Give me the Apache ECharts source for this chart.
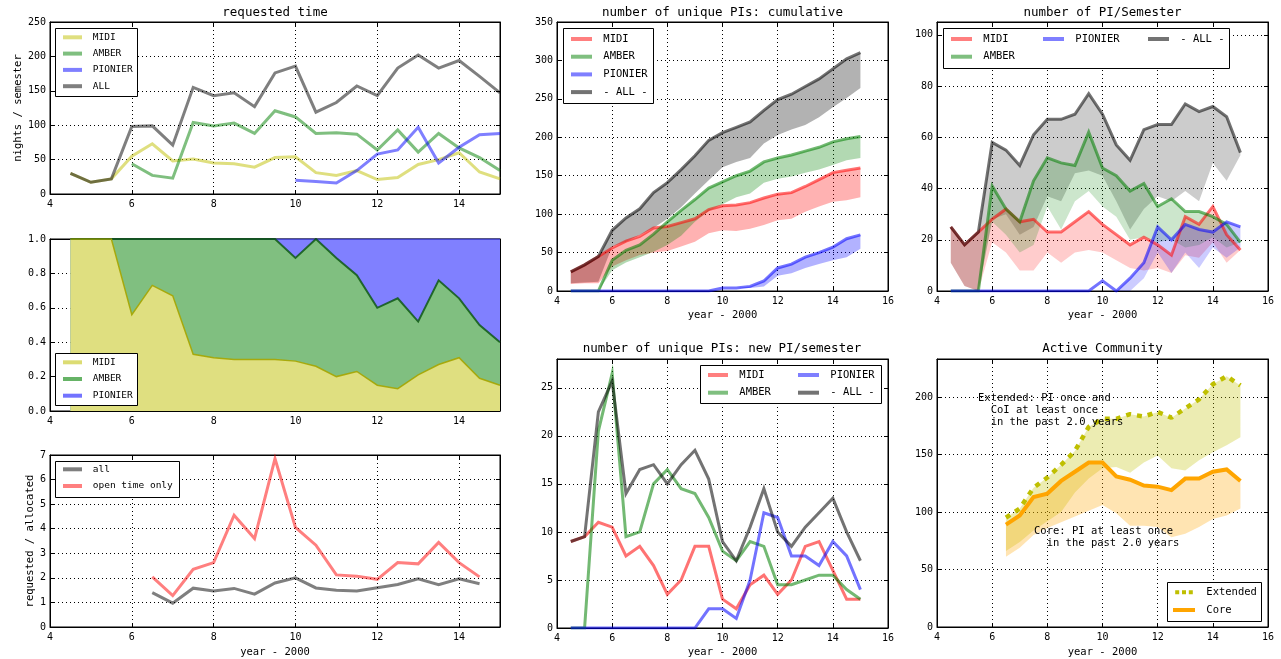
<!DOCTYPE html>
<html><head><meta charset="utf-8">
<script src="https://cdn.jsdelivr.net/npm/echarts@6/dist/echarts.min.js"></script>
<style>html,body{margin:0;padding:0;background:#fff}#c{width:1281px;height:659px}</style>
</head><body><div id="c"></div>
<script>
// ---------------- DATA ----------------
const semesters = [4.5,5,5.5,6,6.5,7,7.5,8,8.5,9,9.5,10,10.5,11,11.5,12,12.5,13,13.5,14,14.5,15];
const N = null;
// requested time (nights / semester)
const reqMidi    = [30,17,22,55,73,48,51,45,44,39,53,54,31,27,34,21,24,43,50,60,32,22];
const reqAmber   = [N,N,N,44,27,23,104,99,103,88,121,112,88,89,87,64,93,61,88,67,53,34];
const reqPionier = [N,N,N,N,N,N,N,N,N,N,N,20,18,16,34,58,64,97,45,68,86,88];
const reqAll     = [30,17,22,98,99,71,155,143,147,127,176,186,119,133,157,143,183,202,183,194,171,147];
// fraction of requested time
const fracMidi    = [1,1,1,0.56,0.73,0.67,0.33,0.31,0.30,0.30,0.30,0.29,0.26,0.20,0.23,0.15,0.13,0.21,0.27,0.31,0.19,0.15];
const fracAmber   = [0,0,0,0.44,0.27,0.33,0.67,0.69,0.70,0.70,0.70,0.60,0.74,0.69,0.56,0.45,0.525,0.31,0.49,0.345,0.31,0.25];
const fracPionier = [0,0,0,0,0,0,0,0,0,0,0,0.11,0,0.11,0.21,0.40,0.345,0.48,0.24,0.345,0.50,0.60];
// requested / allocated
const ratioAll  = [N,N,N,N,1.4,0.97,1.58,1.47,1.57,1.34,1.79,2.0,1.59,1.5,1.47,1.6,1.73,1.96,1.72,1.96,1.76,N];
const ratioOpen = [N,N,N,N,2.04,1.28,2.35,2.62,4.55,3.6,6.85,4.05,3.33,2.12,2.07,1.94,2.62,2.57,3.44,2.62,2.04,N];
// unique PIs cumulative
const cumAll       = [25,34,45,79,95,107,128,141,158,176,196,206,213,220,235,249,256,266,276,289,302,310];
const cumAllLo     = [10,11,12,58,64,73,82,94,109,127,144,161,168,173,192,203,210,216,226,239,251,264];
const cumMidi      = [25,34,45,56,65,71,82,84,89,94,106,111,112,115,121,126,128,136,145,154,157,160];
const cumMidiLo    = [9,10,10,32,40,47,50,52,58,64,75,79,78,81,86,92,94,103,110,116,118,122];
const cumAmber     = [0,0,0,40,53,60,74,90,105,119,134,142,150,156,168,173,177,182,187,194,198,201];
const cumAmberLo   = [0,0,0,27,37,44,51,60,72,90,104,113,122,127,141,146,149,154,158,164,170,173];
const cumPionier   = [0,0,0,0,0,0,0,0,0,0,0,4,4,6,13,30,35,44,50,57,68,73];
const cumPionierLo = [0,0,0,0,0,0,0,0,0,0,0,4,4,4,6,20,23,30,35,40,44,55];
// new PIs per semester
const newAll     = [9,9.5,22.5,25.7,14,16.5,17,15,17,18.5,15.5,9,7,10.5,14.5,10,8.5,10.5,12,13.5,10,7];
const newMidi    = [9,9.5,11,10.5,7.5,8.5,6.5,3.5,5,8.5,8.5,3,2,4.5,5.5,3.5,5,8.5,9,6,3,3];
const newAmber   = [0,0,20.5,26.5,9.5,10,15,16.5,14.5,14,11.5,8,7,9,8.5,4.5,4.5,5,5.5,5.5,4,3];
const newPionier = [0,0,0,0,0,0,0,0,0,0,2,2,1,5,12,11.5,7.5,7.5,6.5,9,7.5,4];
// number of PI per semester
const semAll       = [25,18,23,58,55,49,61,67,67,69,77,69,57,51,63,65,65,73,70,72,68,54];
const semAllLo     = [11,2,0,28,30,22,25,37,35,46,47,45,35,24,32,37,35,39,35,50,43,53];
const semMidi      = [25,18,23,28,32,27,28,23,23,27,31,26,22,18,21,18,14,29,26,33,22,16];
const semMidiLo    = [11,2,0,19,15,8,8,15,11,15,16,15,12,9,8,9,7,14,13,19,11,16];
const semAmber     = [0,0,0,41,32,27,43,52,50,49,62,48,45,39,42,33,36,31,31,29,26,19];
const semAmberLo   = [0,0,0,27,22,15,18,33,24,35,39,33,29,20,21,19,20,17,18,21,17,19];
const semPionier   = [0,0,0,0,0,0,0,0,0,0,0,4,0,5,11,25,20,26,24,23,27,25];
const semPionierLo = [0,0,0,0,0,0,0,0,0,0,0,4,0,0,5,15,7,15,9,17,13,17];
// active community
const extended   = [N,N,N,N,95,103,121,130,141,153,174,181,181,185,183,187,182,190,198,211,218,210];
const extendedLo = [N,N,N,N,66,74,84,92,100,117,129,138,139,134,143,149,138,136,145,152,158,165];
const core       = [N,N,N,N,89,97,113,116,127,135,143,143,131,128,123,122,119,129,129,135,137,127];
const coreLo     = [N,N,N,N,61,69,80,86,91,96,101,106,99,88,88,87,78,81,87,94,97,103];

// ---------------- HELPERS ----------------
const FONT = '"DejaVu Sans Mono", monospace';
const grids = [
  {left:50, top:22, width:450, height:172},
  {left:50, top:239, width:450, height:172},
  {left:50, top:455, width:450, height:172},
  {left:557, top:22, width:331, height:269},
  {left:557, top:359, width:331, height:269},
  {left:937, top:22, width:331, height:269},
  {left:937, top:359, width:331, height:268}
];
const xRange = [[4,15],[4,15],[4,15],[4,16],[4,16],[4,16],[4,16]];
const yRange = [[0,250,50],[0,1,0.2],[0,7,1],[0,350,50],[0,28,5],[0,105,20],[0,233,50]];

const xAxes = [], yAxes = [];
const tick = {show:true, inside:true, length:4, lineStyle:{color:'#000', width:1}};
const aline = {show:true, onZero:false, lineStyle:{color:'#000', width:1}};
const split = {show:true, lineStyle:{color:'#000', width:1, type:[1,3]}};
grids.forEach((g, i) => {
  xAxes.push({gridIndex:i, type:'value', min:xRange[i][0], max:xRange[i][1], interval:2,
    axisLine:aline, axisTick:tick, splitLine:split,
    axisLabel:{color:'#000', fontFamily:FONT, fontSize:10, margin:5, showMaxLabel: i>=3, hideOverlap:false}});
  yAxes.push({gridIndex:i, type:'value', min:yRange[i][0], max:yRange[i][1], interval:yRange[i][2],
    axisLine:aline, axisTick:tick, splitLine:split,
    axisLabel:{color:'#000', fontFamily:FONT, fontSize:10, margin:4,
      showMaxLabel: !(i===4||i===5||i===6), hideOverlap:false,
      formatter: i===1 ? (v => v.toFixed(1)) : (v => String(v))}});
});
grids.forEach((g, i) => {
  xAxes.push({gridIndex:i, type:'value', position:'top', min:xRange[i][0], max:xRange[i][1], interval:2,
    axisLine:aline, axisTick:tick, splitLine:{show:false}, axisLabel:{show:false}});
  yAxes.push({gridIndex:i, type:'value', position:'right', min:yRange[i][0], max:yRange[i][1], interval:yRange[i][2],
    axisLine:aline, axisTick:tick, splitLine:{show:false}, axisLabel:{show:false}});
});

function pts(arr){ return semesters.map((x,i)=>[x, arr[i]]).filter(p => p[1] != null); }
function line(gi, name, arr, color, width, extra){
  return Object.assign({type:'line', name:name, xAxisIndex:gi, yAxisIndex:gi, data:pts(arr),
    symbol:'none', showSymbol:false, smooth:false, silent:true, animation:false,
    lineStyle:{color:color, width:width||3, cap:'butt', join:'miter'}, itemStyle:{color:color}}, extra||{});
}
function band(gi, lo, hi, color){
  const d = semesters.map((x,i)=>[x, lo[i], hi[i]]).filter(p => p[1] != null && p[2] != null);
  return {type:'custom', xAxisIndex:gi, yAxisIndex:gi, data:d, silent:true, animation:false,
    encode:{x:0, y:[1,2]},
    renderItem: function(params, api){
      if (params.dataIndexInside !== 0) return null;
      const up = d.map(p => api.coord([p[0], p[2]]));
      const dn = d.map(p => api.coord([p[0], p[1]])).reverse();
      return {type:'polygon', shape:{points: up.concat(dn)}, style:{fill:color, stroke:null}};
    }};
}
function cum(a, b){ return a.map((v,i)=> v==null ? null : +(v + b[i]).toFixed(4)); }
function legend(left, top, items, w, gap, fs){
  return {left:left, top:top, orient:'vertical', padding:0, itemWidth:w, itemHeight:4, itemGap:gap,
    selectedMode:false, z:6,
    textStyle:{fontFamily:FONT, fontSize:fs, color:'#000', lineHeight:12},
    formatter: n => ' ' + n.split('|')[1],
    data: items.map(it => ({name:it[0], icon:it[2] || 'rect', itemStyle:{color:it[1], borderWidth:0, opacity:1}}))};
}
function box(x, y, w, h){ return {type:'rect', z:5, shape:{x:x+0.5, y:y+0.5, width:w, height:h}, style:{fill:'#fff', stroke:'#000', lineWidth:1}}; }
function txt(x, y, s, fs, rot, align, valign, lh){
  return {type:'text', z:10, x:x, y:y, rotation:rot||0,
    style:{text:s, fontFamily:FONT, fontSize:fs, fill:'#000', align:align||'center', verticalAlign:valign||'middle', lineHeight:lh||fs*1.2}};
}

// colours
const Y5='rgba(191,191,0,0.5)', G5='rgba(0,128,0,0.5)', B5='rgba(0,0,255,0.5)', K5='rgba(0,0,0,0.5)', R5='rgba(255,0,0,0.5)';
const R6='rgba(255,0,0,0.55)', G6='rgba(0,128,0,0.55)', B6='rgba(0,0,255,0.55)', K6='rgba(0,0,0,0.55)';
const ORANGE='#ffa500', OLIVE='rgb(191,191,0)';
const dashIcon = 'path://M0,0H5V5H0Z M8.5,0H13.5V5H8.5Z M17,0H22V5H17Z';

const fracTop2 = cum(fracMidi, fracAmber);
const fracTop3 = cum(fracTop2, fracPionier);

const series = [
  // panel 1
  line(0,'p1|MIDI',reqMidi,Y5), line(0,'p1|AMBER',reqAmber,G5), line(0,'p1|PIONIER',reqPionier,B5), line(0,'p1|ALL',reqAll,K5),
  // panel 2 (opaque areas painted back to front)
  line(1,'p2|PIONIER',fracTop3,'rgba(0,0,150,0.6)',1.5,{areaStyle:{color:'#8080ff',opacity:1}}),
  line(1,'p2|AMBER',fracTop2,'rgba(0,80,0,0.75)',2,{areaStyle:{color:'#80bf80',opacity:1}}),
  line(1,'p2|MIDI',fracMidi,'rgba(165,165,0,0.9)',1.5,{areaStyle:{color:'#dfdf80',opacity:1}}),
  // panel 3
  line(2,'p3|all',ratioAll,K5), line(2,'p3|open time only',ratioOpen,R5),
  // panel 4
  band(3,cumAllLo,cumAll,'rgba(0,0,0,0.3)'), band(3,cumMidiLo,cumMidi,'rgba(255,0,0,0.3)'),
  band(3,cumAmberLo,cumAmber,'rgba(0,128,0,0.3)'), band(3,cumPionierLo,cumPionier,'rgba(0,0,255,0.3)'),
  line(3,'p4|MIDI',cumMidi,R6), line(3,'p4|AMBER',cumAmber,G6), line(3,'p4|PIONIER',cumPionier,B6), line(3,'p4|- ALL -',cumAll,K6),
  // panel 5
  line(4,'p5|MIDI',newMidi,R6), line(4,'p5|AMBER',newAmber,G6), line(4,'p5|PIONIER',newPionier,B6), line(4,'p5|- ALL -',newAll,K6),
  // panel 6
  band(5,semAllLo,semAll,'rgba(0,0,0,0.2)'), band(5,semMidiLo,semMidi,'rgba(255,0,0,0.2)'),
  band(5,semAmberLo,semAmber,'rgba(0,128,0,0.2)'), band(5,semPionierLo,semPionier,'rgba(0,0,255,0.2)'),
  line(5,'p6|MIDI',semMidi,R6), line(5,'p6|AMBER',semAmber,G6), line(5,'p6|PIONIER',semPionier,B6), line(5,'p6|- ALL -',semAll,K6),
  // panel 7
  band(6,extendedLo,extended,'rgba(191,191,0,0.3)'), band(6,coreLo,core,'rgba(255,165,0,0.3)'),
  line(6,'p7|Extended',extended,OLIVE,4.5,{lineStyle:{color:OLIVE,width:4.5,type:[5,6],cap:'butt'}}),
  line(6,'p7|Core',core,ORANGE,4)
];

const legends = [
  legend(63,31.3,[['p1|MIDI',Y5],['p1|AMBER',G5],['p1|PIONIER',B5],['p1|ALL',K5]],19,4.3,9.5),
  legend(63,356.3,[['p2|MIDI','rgba(191,191,0,0.55)'],['p2|AMBER','rgba(0,128,0,0.6)'],['p2|PIONIER','rgba(0,0,255,0.55)']],19,4.7,9.5),
  legend(63,463.3,[['p3|all',K5],['p3|open time only',R5]],19,4.7,9.5),
  legend(571,33,[['p4|MIDI',R5],['p4|AMBER',G5],['p4|PIONIER',B5],['p4|- ALL -',K6]],21,5.7,10.5),
  legend(708,369,[['p5|MIDI',R5],['p5|AMBER',G5]],20,5.7,10.5),
  legend(798,369,[['p5|PIONIER',B5],['p5|- ALL -',K6]],21,5.7,10.5),
  legend(951,33,[['p6|MIDI',R5],['p6|AMBER',G5]],21,5.7,10.5),
  legend(1043,33,[['p6|PIONIER',B5]],21,5.7,10.5),
  legend(1148,33,[['p6|- ALL -',K6]],21,5.7,10.5),
  legend(1173,586.3,[['p7|Extended',OLIVE,dashIcon],['p7|Core',ORANGE]],22,5.7,10.5)
];

const graphics = [
  box(55,28,82,68), box(55,353,82,52), box(55,461,124,36),
  box(563,28,90,75), box(700,365,181,38), box(943,28,286,40), box(1167,582,94,39),
  txt(275,12.5,'requested time',12.5), txt(722.5,12.5,'number of unique PIs: cumulative',12.5),
  txt(722,349,'number of unique PIs: new PI/semester',12.5), txt(1102.5,12.5,'number of PI/Semester',12.5),
  txt(1102.5,349,'Active Community',12.5),
  txt(275,652,'year - 2000',10.5), txt(722.5,315.5,'year - 2000',10.5), txt(722.5,652,'year - 2000',10.5),
  txt(1102.5,315.5,'year - 2000',10.5), txt(1102.5,652,'year - 2000',10.5),
  txt(18,108,'nights / semester',10.5,Math.PI/2), txt(30,541,'requested / allocated',10.5,Math.PI/2),
  txt(978,392,'Extended: PI once and\n  CoI at least once\n  in the past 2.0 years',10.5,0,'left','top',12),
  txt(1034,525.7,'Core: PI at least once\n  in the past 2.0 years',10.5,0,'left','top',11.5)
];

const chart = echarts.init(document.getElementById('c'), null, {renderer:'canvas'});
chart.setOption({
  animation:false,
  backgroundColor:'#fff',
  grid: grids.map(g => Object.assign({show:true, borderColor:'#000', borderWidth:1, backgroundColor:'transparent', containLabel:false, outerBoundsMode:'none'}, g)),
  xAxis:xAxes, yAxis:yAxes, legend:legends, series:series, graphic:{elements:graphics}
});
</script></body></html>
